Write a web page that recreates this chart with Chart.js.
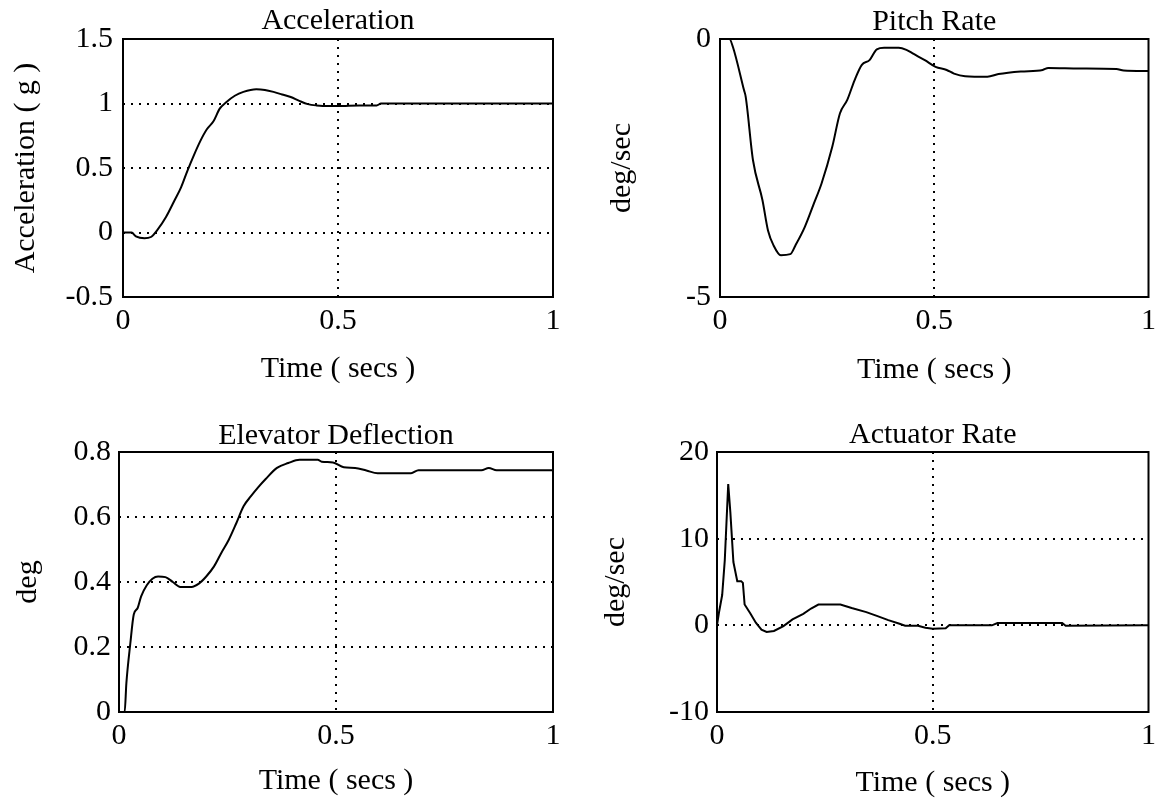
<!DOCTYPE html>
<html>
<head>
<meta charset="utf-8">
<script src="https://cdn.jsdelivr.net/npm/chart.js@4.4.1/dist/chart.umd.min.js"></script>
<style>
  html, body { margin: 0; padding: 0; background: #fff; }
  #wrap { position: relative; width: 1165px; height: 803px; overflow: hidden; background: #fff; }
  #wrap canvas { position: absolute; }
</style>
</head>
<body>
<div id="wrap">
  <canvas id="acc"   width="582" height="401" style="left:0px;top:0px"></canvas>
  <canvas id="pitch" width="583" height="401" style="left:582px;top:0px"></canvas>
  <canvas id="elev"  width="582" height="402" style="left:0px;top:401px"></canvas>
  <canvas id="act"   width="583" height="402" style="left:582px;top:401px"></canvas>
</div>
<script>
// ---- step response data (time in seconds) ----
const accTime  = [0, 0.02, 0.03, 0.05, 0.065, 0.08, 0.1, 0.12, 0.135, 0.15, 0.165, 0.18, 0.195, 0.21, 0.225, 0.24, 0.26, 0.28, 0.31, 0.33, 0.35, 0.37, 0.39, 0.41, 0.43, 0.45, 0.48, 0.5, 0.55, 0.59, 0.6, 0.7, 1.0];
const accValue = [0, 0, -0.03, -0.045, -0.035, 0.02, 0.12, 0.25, 0.35, 0.48, 0.6, 0.71, 0.8, 0.86, 0.96, 1.01, 1.06, 1.09, 1.11, 1.105, 1.09, 1.07, 1.05, 1.02, 0.995, 0.985, 0.98, 0.98, 0.985, 0.985, 1.0, 1.0, 1.0];

const pitchTime  = [0, 0.022, 0.03, 0.056, 0.06, 0.077, 0.099, 0.112, 0.125, 0.142, 0.164, 0.176, 0.198, 0.219, 0.237, 0.262, 0.28, 0.297, 0.314, 0.331, 0.349, 0.366, 0.383, 0.417, 0.435, 0.452, 0.478, 0.503, 0.529, 0.546, 0.572, 0.624, 0.65, 0.702, 0.753, 0.766, 0.839, 0.925, 0.942, 1.0];
const pitchValue = [0, 0, -0.15, -0.99, -1.12, -2.35, -3.12, -3.71, -4.0, -4.19, -4.17, -4.0, -3.64, -3.19, -2.8, -2.09, -1.44, -1.18, -0.8, -0.5, -0.41, -0.2, -0.17, -0.17, -0.21, -0.29, -0.41, -0.54, -0.6, -0.67, -0.72, -0.73, -0.68, -0.63, -0.6, -0.56, -0.57, -0.58, -0.61, -0.62];

const elevTime  = [0, 0.013, 0.017, 0.026, 0.034, 0.043, 0.051, 0.064, 0.077, 0.09, 0.107, 0.124, 0.141, 0.167, 0.184, 0.201, 0.219, 0.236, 0.253, 0.27, 0.287, 0.304, 0.321, 0.338, 0.364, 0.39, 0.416, 0.458, 0.467, 0.493, 0.518, 0.544, 0.57, 0.596, 0.673, 0.69, 0.835, 0.852, 0.87, 1.0];
const elevValue = [0, 0, 0.089, 0.21, 0.30, 0.32, 0.356, 0.39, 0.41, 0.417, 0.415, 0.40, 0.385, 0.385, 0.395, 0.417, 0.448, 0.49, 0.53, 0.58, 0.633, 0.664, 0.692, 0.717, 0.751, 0.766, 0.776, 0.776, 0.77, 0.768, 0.753, 0.751, 0.743, 0.735, 0.735, 0.744, 0.744, 0.751, 0.744, 0.744];

const actTime  = [0, 0.005, 0.012, 0.018, 0.026, 0.031, 0.038, 0.047, 0.056, 0.06, 0.064, 0.077, 0.09, 0.103, 0.115, 0.132, 0.154, 0.175, 0.2, 0.218, 0.235, 0.286, 0.312, 0.346, 0.372, 0.397, 0.423, 0.436, 0.466, 0.483, 0.5, 0.53, 0.538, 0.637, 0.65, 0.8, 0.808, 1.0];
const actValue = [0, 1.6, 3.5, 7.5, 16.3, 13, 7.3, 5.1, 5.1, 4.9, 2.4, 1.4, 0.3, -0.5, -0.76, -0.65, -0.08, 0.68, 1.33, 1.94, 2.4, 2.4, 2.0, 1.52, 1.06, 0.6, 0.19, -0.04, -0.04, -0.27, -0.38, -0.34, 0, 0, 0.27, 0.27, -0.04, 0];

// ---- tick values and labels ----
const timeTicks      = [0, 0.5, 1];
const timeTickLabels = ['0', '0.5', '1'];
const accTicks       = [-0.5, 0, 0.5, 1, 1.5];
const accTickLabels  = ['-0.5', '0', '0.5', '1', '1.5'];
const pitchTicks     = [-5, 0];
const pitchTickLabels = ['-5', '0'];
const elevTicks      = [0, 0.2, 0.4, 0.6, 0.8];
const elevTickLabels = ['0', '0.2', '0.4', '0.6', '0.8'];
const actTicks       = [-10, 0, 10, 20];
const actTickLabels  = ['-10', '0', '10', '20'];

const FONT = { family: '"Liberation Serif", "Times New Roman", serif', size: 30, weight: 'normal', lineHeight: 1 };
const INK = '#000';

// solid box around the plotting area
const framePlugin = {
  id: 'frame',
  afterDatasetsDraw(chart) {
    const a = chart.chartArea, c = chart.ctx;
    c.save();
    c.lineWidth = 2;
    c.strokeStyle = INK;
    c.strokeRect(a.left, a.top, a.right - a.left, a.bottom - a.top);
    c.restore();
  }
};

function dottedGrid(ticks) {
  const lo = Math.min(...ticks), hi = Math.max(...ticks);
  return {
    drawTicks: false,
    lineWidth: 2,
    color: ctx => (ctx.tick && ctx.tick.value > lo && ctx.tick.value < hi) ? INK : 'rgba(0,0,0,0)'
  };
}

function panel(id, p) {
  const canvas = document.getElementById(id);
  const W = canvas.width, H = canvas.height;
  const pts = p.time.map((t, i) => ({ x: t, y: p.value[i] }));
  new Chart(canvas, {
    type: 'line',
    data: { datasets: [{
      data: pts, borderColor: INK, borderWidth: 2, pointRadius: 0, fill: false,
      tension: 0, cubicInterpolationMode: p.smooth ? 'monotone' : 'default'
    }] },
    options: {
      responsive: false,
      animation: false,
      devicePixelRatio: 1,
      layout: { padding: { left: 0, top: 0, right: W - p.area.right, bottom: 0 } },
      plugins: {
        legend: { display: false },
        tooltip: { enabled: false },
        title: {
          display: true, text: p.title, fullSize: false, color: INK, font: FONT,
          padding: { top: p.titleY - 15, bottom: p.area.top - p.titleY - 15 }
        }
      },
      scales: {
        x: {
          type: 'linear', min: 0, max: 1,
          afterFit(s) { s.height = H - p.area.bottom; },
          afterBuildTicks(s) { s.ticks = timeTicks.map(v => ({ value: v })); },
          ticks: {
            color: INK, font: FONT, padding: 9, maxRotation: 0, autoSkip: false,
            callback: v => timeTickLabels[timeTicks.indexOf(v)]
          },
          grid: dottedGrid(timeTicks),
          border: { display: false, dash: [2, 6] },
          title: { display: true, text: 'Time ( secs )', color: INK, font: FONT, padding: { top: 0, bottom: H - 15 - p.xTitleY } }
        },
        y: {
          type: 'linear', min: p.ticks[0], max: p.ticks[p.ticks.length - 1],
          afterFit(s) { s.width = p.area.left; },
          afterBuildTicks(s) { s.ticks = p.ticks.map(v => ({ value: v })); },
          ticks: {
            color: INK, font: FONT, padding: p.yTickPad, autoSkip: false,
            callback: v => p.labels[p.ticks.indexOf(v)]
          },
          grid: dottedGrid(p.ticks),
          border: { display: false, dash: [2, 6] },
          title: { display: true, text: p.yTitle, color: INK, font: FONT, padding: { top: p.yTitleX - 15, bottom: 0 } }
        }
      }
    },
    plugins: [framePlugin]
  });
}

panel('acc', {
  time: accTime, value: accValue, ticks: accTicks, labels: accTickLabels, smooth: true,
  title: 'Acceleration', yTitle: 'Acceleration ( g )',
  area: { left: 123, right: 553, top: 39, bottom: 297 },
  titleY: 21, xTitleY: 369, yTitleX: 26, yTickPad: 10
});
panel('pitch', {
  time: pitchTime, value: pitchValue, ticks: pitchTicks, labels: pitchTickLabels, smooth: true,
  title: 'Pitch Rate', yTitle: 'deg/sec',
  area: { left: 138, right: 571, top: 39, bottom: 297 },
  titleY: 22, xTitleY: 370, yTitleX: 40, yTickPad: 9
});
panel('elev', {
  time: elevTime, value: elevValue, ticks: elevTicks, labels: elevTickLabels, smooth: true,
  title: 'Elevator Deflection', yTitle: 'deg',
  area: { left: 119, right: 553, top: 51, bottom: 311 },
  titleY: 35, xTitleY: 380, yTitleX: 28, yTickPad: 8
});
panel('act', {
  time: actTime, value: actValue, ticks: actTicks, labels: actTickLabels, smooth: false,
  title: 'Actuator Rate', yTitle: 'deg/sec',
  area: { left: 135, right: 571, top: 51, bottom: 311 },
  titleY: 34, xTitleY: 382, yTitleX: 34, yTickPad: 8
});
</script>
</body>
</html>
